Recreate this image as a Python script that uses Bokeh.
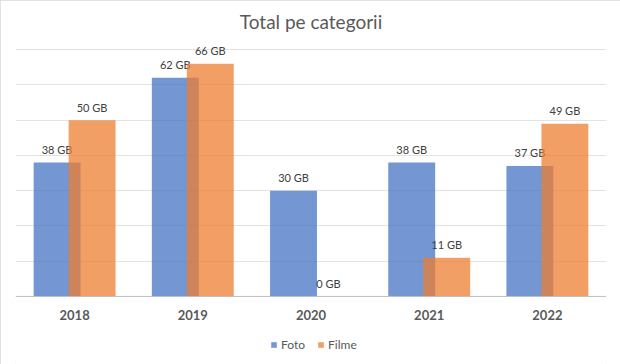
from bokeh.plotting import figure
from bokeh.models import ColumnDataSource, Range1d, FactorRange, FixedTicker, Legend, LegendItem, Span
from bokeh.transform import dodge
from bokeh.core.properties import value
from bokeh.embed import file_html
from bokeh.resources import INLINE

years = ["2018", "2019", "2020", "2021", "2022"]
foto = [38, 62, 30, 38, 37]
filme = [50, 66, 0, 11, 49]
foto_labels = [f"{v} GB" for v in foto]
filme_labels = [f"{v} GB" for v in filme]
grid_ticks = [10, 20, 30, 40, 50, 60, 70]

src = ColumnDataSource(dict(years=years, foto=foto, filme=filme,
                            foto_lbl=foto_labels, filme_lbl=filme_labels,
                            base=[0] * len(years)))

FONT = "Lato"
p = figure(x_range=FactorRange(factors=years, range_padding=0),
           y_range=Range1d(-19.3, 74),
           width=620, height=364, output_backend="svg", toolbar_location=None,
           min_border_left=15, min_border_right=14, min_border_top=35, min_border_bottom=0,
           title="Total pe categorii")
p.styles = {"outline": "1px solid #D9D9D9", "outline-offset": "-1px"}

p.title.align = "center"
p.title.text_font = FONT
p.title.text_font_size = "19px"
p.title.text_font_style = "normal"
p.title.text_color = "#595959"
p.title.standoff = 5

p.outline_line_color = None
p.background_fill_color = "white"
p.border_fill_color = "white"

off = 0.148
bw = 0.397

r_foto = p.vbar(x=dodge("years", -off, range=p.x_range), top="foto", width=bw,
                source=src, fill_color="#4472C4", fill_alpha=0.74, line_color=None)
p.text(x=dodge("years", -off, range=p.x_range), y="foto", text="foto_lbl", source=src,
       text_font=value(FONT), text_font_size="11px", text_color="#404040",
       text_align="center", text_baseline="middle", y_offset=-13)

r_filme = p.vbar(x=dodge("years", off, range=p.x_range), top="filme", width=bw,
                 source=src, fill_color="#ED7D31", fill_alpha=0.74, line_color=None)
p.text(x=dodge("years", off, range=p.x_range), y="filme", text="filme_lbl", source=src,
       text_font=value(FONT), text_font_size="11px", text_color="#404040",
       text_align="center", text_baseline="middle", y_offset=-13)

# category labels under the baseline
p.text(x="years", y="base", text="years", source=src,
       text_font=value(FONT), text_font_size="13px", text_font_style="bold",
       text_color="#595959", text_align="center", text_baseline="middle", y_offset=19)

p.add_layout(Span(location=0, dimension="width", line_color="#BFBFBF", line_width=1))

p.xaxis.visible = False
p.yaxis.visible = False
p.yaxis.ticker = FixedTicker(ticks=grid_ticks)
p.ygrid.ticker = FixedTicker(ticks=grid_ticks)
p.ygrid.grid_line_color = "#E3E3E3"
p.xgrid.grid_line_color = None

legend = Legend(items=[LegendItem(label="Foto", renderers=[r_foto]),
                       LegendItem(label="Filme", renderers=[r_filme])],
                orientation="horizontal", location=(255, 12),
                border_line_color=None, background_fill_alpha=0,
                label_text_font=FONT, label_text_font_size="12px", label_text_color="#595959",
                glyph_width=7, glyph_height=7, label_standoff=4, spacing=12,
                padding=2, margin=0, label_height=14)
p.add_layout(legend, "center")

open("out.html", "w").write(file_html(p, INLINE))
